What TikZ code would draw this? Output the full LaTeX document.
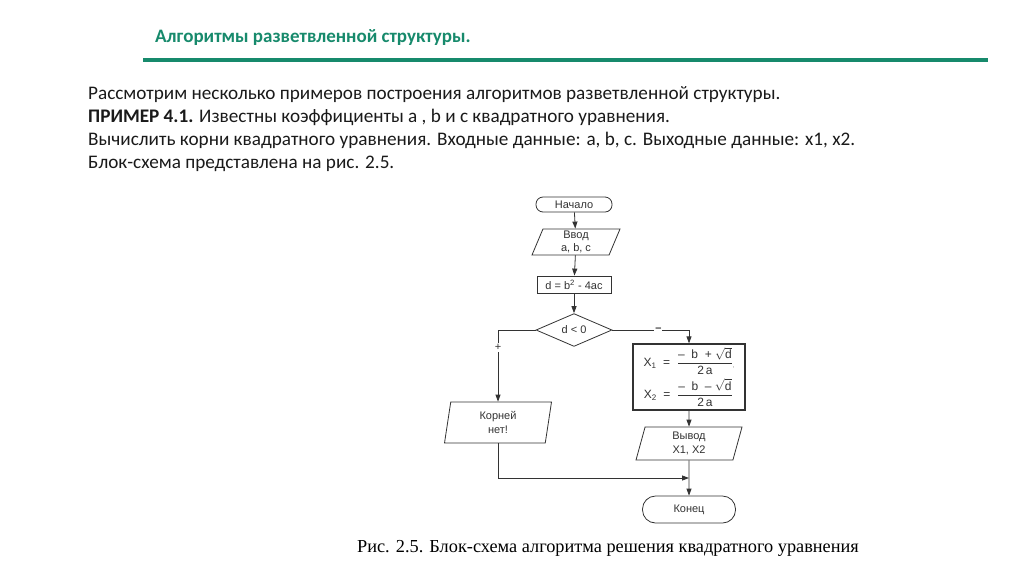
\documentclass[tikz,border=0pt]{standalone}
\usepackage{fontspec}
\setmainfont{Carlito}
\newfontfamily\flowfont{Liberation Sans}
\newfontfamily\capfont{Liberation Serif}
\usepackage{xcolor}
\definecolor{slideGreen}{HTML}{178A6C}
\definecolor{slideText}{HTML}{1A1A1A}
\definecolor{flowLine}{HTML}{333333}
\usetikzlibrary{shapes.geometric,arrows.meta}

\tikzset{
  flow/.style={draw=flowLine, line width=0.8pt, font=\flowfont\fontsize{11}{12.5}\selectfont, text=flowLine, align=center, inner sep=0pt},
  terminal/.style={flow, rectangle, rounded corners=7pt},
  process/.style={flow, rectangle},
  decision/.style={flow, diamond},
  io/.style={flow, trapezium, trapezium stretches body},
  arr/.style={draw=flowLine, line width=0.8pt, -{Triangle[width=5pt,length=7pt]}},
  plain/.style={draw=flowLine, line width=0.8pt},
}

\begin{document}
\begin{tikzpicture}[x=1pt,y=-1pt]
  \useasboundingbox (0,0) rectangle (1024,574);
  \fill[white] (0,0) rectangle (1024,574);
  % slide header
  \node[anchor=base west, inner sep=0pt, text=slideGreen, font=\bfseries\fontsize{19}{22}\selectfont] (title) at (155,42) {Алгоритмы разветвленной структуры.};
  \draw[slideGreen, line width=3.5pt] (143,60) -- (988,60);
  % slide text
  \node[anchor=base west, inner sep=0pt, text=slideText, align=left, font=\fontsize{19.2}{22.8}\selectfont] (intro) at (88,168) {Рассмотрим несколько примеров построения алгоритмов разветвленной структуры.\\
    \textbf{ПРИМЕР 4.1.} Известны коэффициенты а , b и с квадратного уравнения.\\
    Вычислить корни квадратного уравнения. Входные данные: а, b, с. Выходные данные: x1, x2.\\
    Блок-схема представлена на рис. 2.5.};

  % flowchart
  \node[terminal, minimum width=76pt, minimum height=15pt] (start) at (574,204.5) {Начало};
  \node[io, trapezium left angle=63, trapezium right angle=117, minimum width=88pt, minimum height=26pt] (input) at (576,242) {Ввод\\[0pt] a, b, c};
  \node[process, minimum width=74pt, minimum height=17pt] (calc) at (574,284.5) {d = b\textsuperscript{2} - 4ac};
  \node[decision, minimum width=76pt, minimum height=30pt] (cond) at (574,330) {d < 0};
  \node[process, line width=1.3pt, minimum width=112pt, minimum height=66pt, font=\flowfont\fontsize{12}{13}\selectfont] (roots) at (689,377) {%
    $\mbox{X}_{\mbox{\footnotesize 1}}\ \ \mbox{=}\ \ \displaystyle\frac{\mbox{–\ \ b\ \ +\ }\sqrt{\mbox{d}}}{\mbox{2\,a}}$\raisebox{-1pt}{\tiny,}\\[3pt]
    $\mbox{X}_{\mbox{\footnotesize 2}}\ \ \mbox{=}\ \ \displaystyle\frac{\mbox{–\ \ b\ \ –\ }\sqrt{\mbox{d}}}{\mbox{2\,a}}$\phantom{\tiny,}};
  \node[io, trapezium left angle=74, trapezium right angle=106, minimum width=107pt, minimum height=41pt] (noroot) at (498,422.5) {Корней\\[1pt] нет!};
  \node[io, trapezium left angle=68, trapezium right angle=112, minimum width=106pt, minimum height=33pt] (output) at (689,443.5) {Вывод\\[1pt] X1, X2};
  \node[terminal, rounded corners=13pt, minimum width=93pt, minimum height=27pt] (stop) at (689,509.5) {Конец};
  \coordinate (join) at (689,478);

  \draw[arr] (start) -- (input);
  \draw[arr] (input) -- (calc);
  \draw[arr] (calc) -- (cond);
  \draw[arr] (cond.west) -| node[pos=0.62, fill=white, inner sep=1.5pt, font=\flowfont\fontsize{11}{11}\selectfont, text=flowLine] {+} (noroot.north);
  \draw[arr] (cond.east) -| node[pos=0.3, fill=white, inner sep=1pt, font=\flowfont\bfseries\fontsize{11}{11}\selectfont, text=flowLine] {–} (roots.north);
  \draw[arr] (roots) -- (output);
  \draw[arr] (output) -- (stop);
  \draw[arr] (noroot.south) |- (join);

  % caption
  \node[anchor=base, inner sep=0pt, text=black, font=\capfont\fontsize{18.3}{21}\selectfont] (caption) at (608,552) {Рис. 2.5. Блок-схема алгоритма решения квадратного уравнения};
\end{tikzpicture}
\end{document}
